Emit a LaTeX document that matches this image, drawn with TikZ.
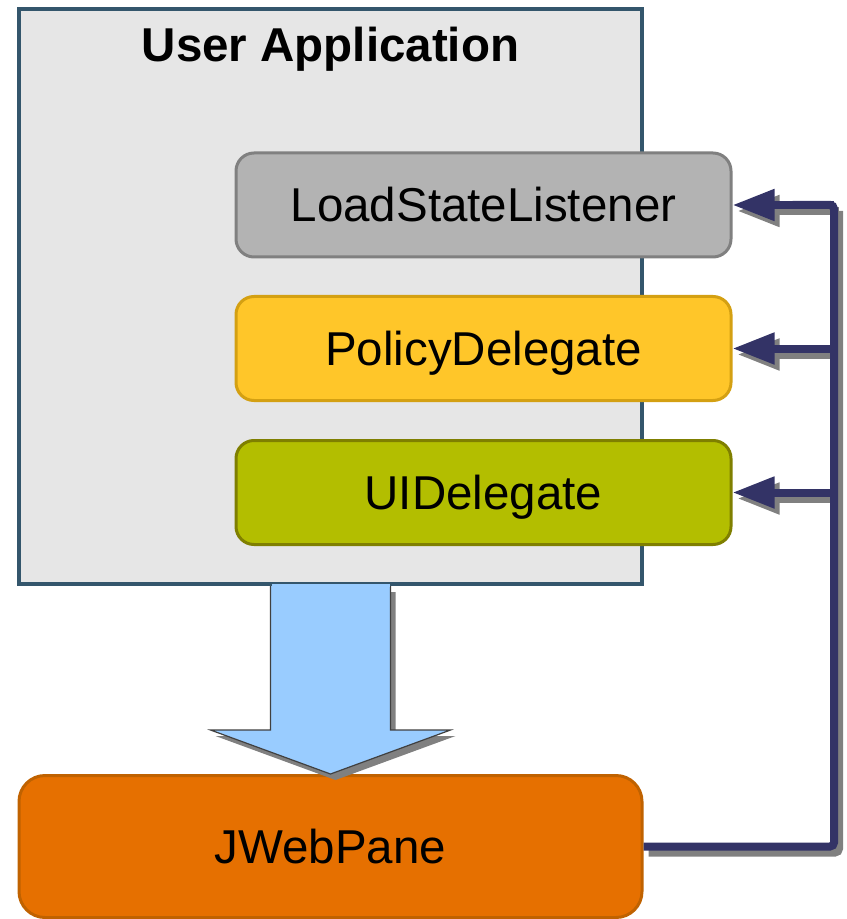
\documentclass[tikz,border=0pt]{standalone}
\usepackage{fontspec}
\setmainfont{Liberation Sans}
\usepackage{xcolor}
\usetikzlibrary{arrows.meta,positioning,calc}

\definecolor{appfill}{HTML}{E6E6E6}
\definecolor{appborder}{HTML}{34566C}
\definecolor{lslfill}{HTML}{B3B3B3}
\definecolor{lslborder}{HTML}{808080}
\definecolor{policyfill}{HTML}{FFC629}
\definecolor{policyborder}{HTML}{D4A012}
\definecolor{uifill}{HTML}{B3BE00}
\definecolor{uiborder}{HTML}{7F7F00}
\definecolor{jwebfill}{HTML}{E67000}
\definecolor{jwebborder}{HTML}{C06200}
\definecolor{busline}{HTML}{333366}
\definecolor{flowfill}{HTML}{99CCFF}
\definecolor{shadowgray}{HTML}{808080}

\tikzset{
  delegatebox/.style={draw,rounded corners=9pt,line width=1.5pt,minimum width=247.5pt,minimum height=52pt,inner sep=0pt,text height=17pt,text depth=0pt},
  busarrow/.style={line width=4pt,-{Triangle[length=21pt,width=15pt]}},
  busplain/.style={line width=4pt,rounded corners=2pt},
  dropshadow/.style={transform canvas={shift={(2.5pt,-3pt)}}}
}

\begin{document}
\begin{tikzpicture}[x=0.5pt,y=-0.5pt,every node/.style={font=\fontsize{23.75}{28}\selectfont,text=black}]
\useasboundingbox (0,0) rectangle (846,919);
% outer box
\node[draw=appborder,fill=appfill,line width=2pt,minimum width=311.5pt,minimum height=287.5pt,inner sep=0pt] (app) at (330.5,296.5) {};
\node[font=\fontsize{23.75}{28}\selectfont\bfseries] (title) at (330.5,49) {User Application};
\node[delegatebox,draw=lslborder,fill=lslfill] (lsl) at (483.5,205) {LoadStateListener};
\node[delegatebox,draw=policyborder,fill=policyfill] (policy) at (483.5,348.5) {PolicyDelegate};
\node[delegatebox,draw=uiborder,fill=uifill] (ui) at (483.5,492.5) {UIDelegate};
\node[draw=jwebborder,fill=jwebfill,line width=1.5pt,rounded corners=13pt,minimum width=311.5pt,minimum height=71pt,inner sep=0pt,text height=17pt,text depth=0pt] (jweb) at (330.5,846.5) {JWebPane};
\coordinate (bus) at (834,0);

% flow arrow from the application down to JWebPane
\coordinate (s1) at ($(app.south)+(-60,0)$);
\coordinate (s2) at ($(app.south)+(-60,144)$);
\coordinate (h1) at ($(app.south)+(-120,144)$);
\coordinate (h2) at ($(app.south)+(120,144)$);
\coordinate (s3) at ($(app.south)+(60,144)$);
\coordinate (s4) at ($(app.south)+(60,0)$);
\begin{scope}[dropshadow]
\fill[shadowgray] (s1)--(s2)--(h1)--(jweb.north)--(h2)--(s3)--(s4)--cycle;
\end{scope}
\filldraw[fill=flowfill,draw=black!75,line width=.6pt] (s1)--(s2)--(h1)--(jweb.north)--(h2)--(s3)--(s4);
\fill[flowfill] ($(s1)+(1,1)$) rectangle ($(s4)+(-1,-2)$);

% callbacks from JWebPane to the delegates
\begin{scope}[dropshadow]
\draw[busplain,shadowgray] (jweb.east) -- (bus |- jweb.east) -- (bus |- lsl.east);
\draw[busarrow,shadowgray] (bus |- lsl.east) -- (lsl.east);
\draw[busarrow,shadowgray] (bus |- policy.east) -- (policy.east);
\draw[busarrow,shadowgray] (bus |- ui.east) -- (ui.east);
\end{scope}
\draw[busplain,busline] (jweb.east) -- (bus |- jweb.east) -- (bus |- lsl.east) -- ($(lsl.east)+(60,0)$);
\draw[busarrow,busline] (bus |- lsl.east) -- (lsl.east);
\draw[busarrow,busline] (bus |- policy.east) -- (policy.east);
\draw[busarrow,busline] (bus |- ui.east) -- (ui.east);
\end{tikzpicture}
\end{document}
